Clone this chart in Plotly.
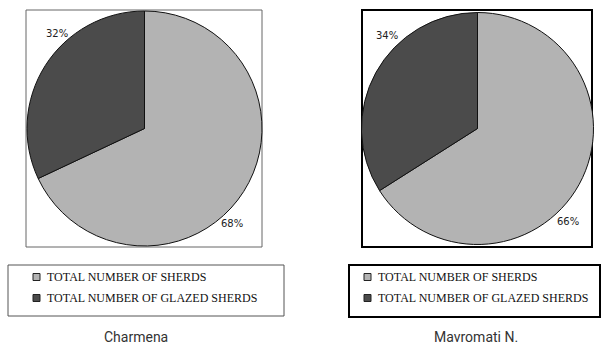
import math
import plotly.graph_objects as go

# Share of sherds at each site
labels = ["TOTAL NUMBER OF SHERDS", "TOTAL NUMBER OF GLAZED SHERDS"]
sites = ["Charmena", "Mavromati N."]
charmena_values = [68, 32]
mavromati_values = [66, 34]
slice_colors = ["#b3b3b3", "#4b4b4b"]

W, H = 601, 349
SERIF = "Times New Roman"


def px(x):
    return x / W


def py(y):
    return 1 - y / H


# Pixel geometry of each panel: pie centre, radius, frame, legend frame
panels = [
    dict(values=charmena_values, cx=144.5, cy=128.5, r=117.5,
         frame=(26, 10, 262, 247), frame_color="#666666", frame_width=1,
         leg=(8, 265, 284, 316), leg_color="#555555", leg_width=1,
         mark_x=33, text_x=45, label_off=15, label_r=1.10, title_x=136),
    dict(values=mavromati_values, cx=477.5, cy=128.5, r=116,
         frame=(362, 10, 592, 247), frame_color="#000000", frame_width=2,
         leg=(349, 265, 600, 317), leg_color="#000000", leg_width=2,
         mark_x=364, text_x=376, label_off=17, label_r=1.12, title_x=476),
]

fig = go.Figure()
shapes = []
annotations = []

for site, p in zip(sites, panels):
    cx, cy, r = p["cx"], p["cy"], p["r"]
    fig.add_trace(go.Pie(
        labels=labels,
        values=p["values"],
        sort=False,
        direction="clockwise",
        rotation=0,
        textinfo="none",
        hoverinfo="label+percent",
        marker=dict(colors=slice_colors, line=dict(color="#111111", width=1)),
        domain=dict(x=[px(cx - r), px(cx + r)], y=[py(cy + r), py(cy - r)]),
        showlegend=False,
    ))

    # plot-area frame
    x0, y0, x1, y1 = p["frame"]
    shapes.append(dict(type="rect", xref="paper", yref="paper",
                       x0=px(x0), x1=px(x1), y0=py(y1), y1=py(y0),
                       line=dict(color=p["frame_color"], width=p["frame_width"]),
                       layer="below"))

    # percentage labels just outside each slice
    total = sum(p["values"])
    start = 0.0
    for v in p["values"]:
        span = 360.0 * v / total
        ang = math.radians(start + span / 2 + p["label_off"])
        lx = cx + math.sin(ang) * r * p["label_r"]
        ly = cy - math.cos(ang) * r * p["label_r"]
        annotations.append(dict(x=px(lx), y=py(ly), xref="paper", yref="paper",
                                xanchor="center", yanchor="middle",
                                text=f"{round(100 * v / total)}%", showarrow=False,
                                font=dict(family="DejaVu Sans", size=10, color="#222222")))
        start += span

    # legend frame, swatches and entries
    lx0, ly0, lx1, ly1 = p["leg"]
    shapes.append(dict(type="rect", xref="paper", yref="paper",
                       x0=px(lx0), x1=px(lx1), y0=py(ly1), y1=py(ly0),
                       line=dict(color=p["leg_color"], width=p["leg_width"])))
    rows = [277, 298]
    for lab, col, ry in zip(labels, slice_colors, rows):
        mx = p["mark_x"]
        shapes.append(dict(type="rect", xref="paper", yref="paper",
                           x0=px(mx), x1=px(mx + 7), y0=py(ry + 3.5), y1=py(ry - 3.5),
                           fillcolor=col, line=dict(color="#222222", width=1)))
        annotations.append(dict(x=px(p["text_x"]), y=py(ry), xref="paper", yref="paper",
                                xanchor="left", yanchor="middle", text=lab, showarrow=False,
                                font=dict(family=SERIF, size=12, color="#111111")))

    # site name beneath the legend
    annotations.append(dict(x=px(p["title_x"]), y=py(337), xref="paper", yref="paper",
                            xanchor="center", yanchor="middle",
                            text=site, showarrow=False,
                            font=dict(family="Roboto", size=14, color="#333333")))

fig.update_layout(
    width=W, height=H,
    margin=dict(l=0, r=0, t=0, b=0),
    paper_bgcolor="white",
    plot_bgcolor="white",
    shapes=shapes,
    annotations=annotations,
)

fig.write_html("out.html")
